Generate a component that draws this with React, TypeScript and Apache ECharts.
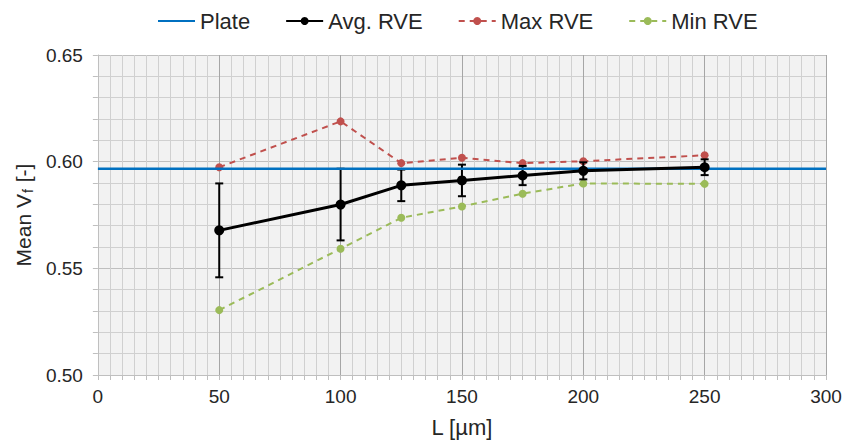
import React, { useEffect, useRef } from "react";
import * as echarts from "echarts";

const lengths = [50, 100, 125, 150, 175, 200, 250];
const avgRVE = [0.5678, 0.5799, 0.5889, 0.5912, 0.5935, 0.5957, 0.5974];
const avgErr = [0.022, 0.0168, 0.0074, 0.0074, 0.0045, 0.004, 0.0037];
const maxRVE = [0.5974, 0.6189, 0.5993, 0.6018, 0.5993, 0.6002, 0.603];
const minRVE = [0.5304, 0.5592, 0.5737, 0.579, 0.585, 0.5898, 0.5896];
const plateX = [0, 300];
const plateValue = 0.5967;

const FONT = "Liberation Sans, Arial, sans-serif";
const TXT = "#262626";

export default function App() {
  const ref = useRef<HTMLDivElement>(null);
  useEffect(() => {
    if (!ref.current) return;
    const chart = echarts.init(ref.current, null, { renderer: "svg" });
    const pair = (ys: number[]) => lengths.map((x, i) => [x, ys[i]]);
    const errData = lengths.map((x, i) => [x, avgRVE[i] - avgErr[i], avgRVE[i] + avgErr[i]]);
    chart.setOption({
      animation: false,
      textStyle: { fontFamily: FONT },
      legend: {
        top: 5,
        left: 152,
        itemGap: 35,
        itemWidth: 37,
        itemHeight: 10,
        textStyle: { fontSize: 22, color: TXT, fontFamily: FONT },
        data: [
          { name: "Plate", itemStyle: { opacity: 0 } },
          "Avg. RVE",
          "Max RVE",
          "Min RVE",
        ],
      },
      grid: {
        left: 97,
        right: 20,
        top: 55,
        bottom: 65,
        show: true,
        backgroundColor: "#f2f2f2",
        borderWidth: 0,
      },
      xAxis: {
        type: "value",
        min: 0,
        max: 300,
        interval: 50,
        name: "L [µm]",
        nameLocation: "middle",
        nameGap: 41,
        nameTextStyle: { fontSize: 22, color: TXT, fontFamily: FONT },
        axisLine: { show: true, lineStyle: { color: "#bfbfbf", width: 1 } },
        axisTick: { show: true, length: 5, lineStyle: { color: "#bfbfbf" } },
        minorTick: { show: true, splitNumber: 10, length: 5, lineStyle: { color: "#bfbfbf" } },
        axisLabel: { fontSize: 19, color: TXT, margin: 12, fontFamily: FONT },
        splitLine: { show: true, lineStyle: { color: "#a6a6a6", width: 1 } },
        minorSplitLine: { show: true, lineStyle: { color: "#d0d0d0", width: 1 } },
      },
      yAxis: {
        type: "value",
        min: 0.5,
        max: 0.65,
        interval: 0.05,
        name: "{a|Mean V}{b|f}{a| [-]}",
        nameLocation: "middle",
        nameGap: 60,
        nameRotate: 90,
        nameTextStyle: {
          rich: {
            a: { fontSize: 21, color: TXT, fontFamily: FONT, verticalAlign: "top", lineHeight: 22 },
            b: {
              fontSize: 14,
              color: TXT,
              fontFamily: FONT,
              verticalAlign: "bottom",
              lineHeight: 14,
              padding: [13, 1, 0, 1],
            },
          },
        },
        axisLine: { show: true, lineStyle: { color: "#bfbfbf", width: 1 } },
        axisTick: { show: true, length: 5, lineStyle: { color: "#bfbfbf" } },
        minorTick: { show: true, splitNumber: 5, length: 5, lineStyle: { color: "#bfbfbf" } },
        axisLabel: {
          fontSize: 19,
          color: TXT,
          margin: 15,
          fontFamily: FONT,
          formatter: (v: number) => v.toFixed(2),
        },
        splitLine: { show: true, lineStyle: { color: "#bfbfbf", width: 1 } },
        minorSplitLine: { show: true, lineStyle: { color: "#d0d0d0", width: 1 } },
      },
      series: [
        {
          name: "Max RVE",
          type: "line",
          data: pair(maxRVE),
          symbol: "circle",
          symbolSize: 8,
          lineStyle: { color: "#c0504d", width: 2, type: [6, 5] },
          itemStyle: { color: "#c0504d" },
          z: 3,
        },
        {
          name: "Min RVE",
          type: "line",
          data: pair(minRVE),
          symbol: "circle",
          symbolSize: 8,
          lineStyle: { color: "#9bbb59", width: 2, type: [6, 5] },
          itemStyle: { color: "#9bbb59" },
          z: 3,
        },
        {
          name: "AvgErr",
          type: "custom",
          data: errData,
          encode: { x: 0, y: [1, 2] },
          z: 4,
          renderItem: (params: any, api: any) => {
            const x = api.value(0);
            const lo = api.coord([x, api.value(1)]);
            const hi = api.coord([x, api.value(2)]);
            const w = 4;
            const style = { stroke: "#000", lineWidth: 2 };
            return {
              type: "group",
              children: [
                { type: "line", shape: { x1: lo[0], y1: lo[1], x2: hi[0], y2: hi[1] }, style },
                { type: "line", shape: { x1: lo[0] - w, y1: lo[1], x2: lo[0] + w, y2: lo[1] }, style },
                { type: "line", shape: { x1: hi[0] - w, y1: hi[1], x2: hi[0] + w, y2: hi[1] }, style },
              ],
            };
          },
        },
        {
          name: "Plate",
          type: "line",
          data: plateX.map((x) => [x, plateValue]),
          symbol: "none",
          lineStyle: { color: "#0070c0", width: 2.5 },
          itemStyle: { color: "#0070c0" },
          z: 4.5,
        },
        {
          name: "Avg. RVE",
          type: "line",
          data: pair(avgRVE),
          symbol: "circle",
          symbolSize: 10,
          lineStyle: { color: "#000000", width: 3 },
          itemStyle: { color: "#000000" },
          z: 5,
        },
      ],
    });
    return () => chart.dispose();
  }, []);
  return <div ref={ref} style={{ width: 846, height: 443, position: "absolute", left: 0, top: 0 }} />;
}
